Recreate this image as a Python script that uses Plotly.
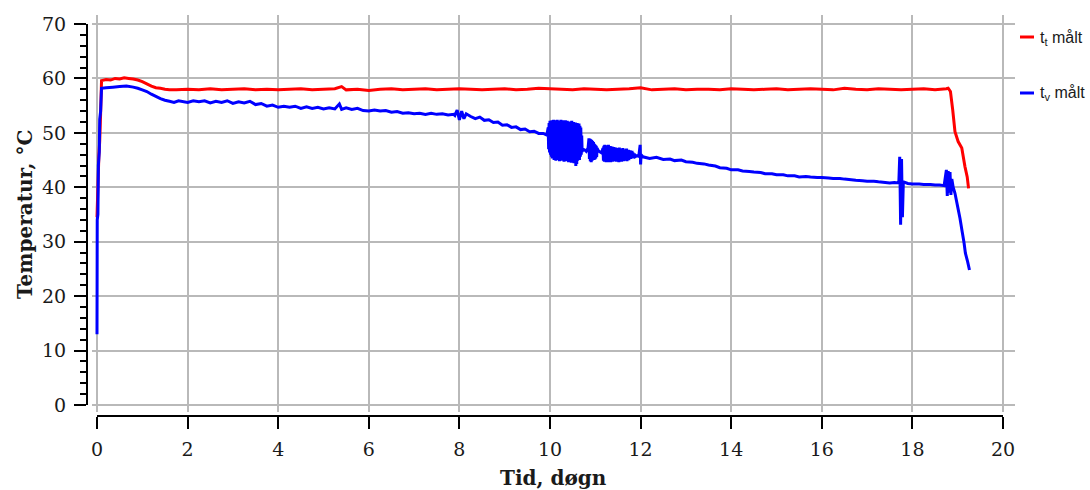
import plotly.graph_objects as go

W, H = 1090, 490

# Tank temperature t_t (red): (day, degC)
t_t_points = [
    (0.000, 34.5), (0.005, 36.0), (0.02, 40.0), (0.04, 45.5), (0.06, 48.5),
    (0.08, 53.5), (0.10, 59.6), (0.20, 59.8), (0.30, 59.7), (0.40, 60.0),
    (0.50, 59.9), (0.60, 60.1), (0.70, 60.0), (0.80, 59.9), (0.90, 59.7),
    (1.00, 59.4), (1.10, 59.0), (1.20, 58.6), (1.30, 58.3), (1.40, 58.2),
    (1.50, 58.0), (1.60, 57.9), (1.75, 57.9), (2.00, 58.0), (2.25, 57.9),
    (2.50, 58.1), (2.75, 57.9), (3.00, 58.0), (3.25, 58.1), (3.50, 57.9),
    (3.75, 58.0), (4.00, 57.9), (4.25, 58.0), (4.50, 58.1), (4.75, 57.9),
    (5.00, 58.0), (5.25, 58.1), (5.40, 58.5), (5.50, 57.9), (5.75, 58.0),
    (6.00, 57.8), (6.25, 58.0), (6.50, 58.1), (6.75, 57.9), (7.00, 58.0),
    (7.25, 58.1), (7.50, 57.9), (7.75, 58.0), (8.00, 58.1), (8.25, 58.0),
    (8.50, 57.9), (8.75, 58.0), (9.00, 58.1), (9.25, 57.9), (9.50, 58.0),
    (9.75, 58.2), (10.00, 58.1), (10.25, 58.0), (10.50, 57.9), (10.75, 58.1),
    (11.00, 58.0), (11.25, 57.9), (11.50, 58.0), (11.75, 58.1), (12.00, 58.3),
    (12.25, 57.9), (12.50, 58.0), (12.75, 58.1), (13.00, 57.9), (13.25, 58.0),
    (13.50, 58.0), (13.75, 57.9), (14.00, 58.1), (14.25, 58.0), (14.50, 57.9),
    (14.75, 58.0), (15.00, 58.1), (15.25, 57.9), (15.50, 58.0), (15.75, 58.1),
    (16.00, 58.0), (16.25, 57.9), (16.50, 58.2), (16.75, 58.0), (17.00, 57.9),
    (17.25, 58.1), (17.50, 58.0), (17.75, 57.9), (18.00, 58.0), (18.25, 58.1),
    (18.50, 57.9), (18.75, 58.1), (18.79, 58.2), (18.84, 57.6), (18.89, 54.2),
    (18.94, 50.2), (19.01, 48.4), (19.09, 47.2), (19.16, 43.8), (19.21, 41.9),
    (19.24, 39.8),
]

# Water temperature t_v (blue), split into segments: (day, degC)
t_v_start = [
    (0.000, 13.0), (0.005, 34.0), (0.02, 35.0), (0.03, 44.0), (0.05, 46.5),
    (0.06, 52.5), (0.08, 54.0), (0.10, 58.2), (0.20, 58.3), (0.35, 58.4),
    (0.50, 58.5), (0.65, 58.6), (0.80, 58.4), (0.90, 58.2), (1.00, 57.9),
    (1.10, 57.6), (1.20, 57.1), (1.30, 56.7), (1.40, 56.3), (1.50, 56.0),
    (1.60, 55.8), (1.70, 55.6), (1.80, 55.9),
]
t_v_slow_decline = [
    (2.000, 55.6), (2.125, 55.9), (2.250, 55.7), (2.375, 55.9), (2.500, 55.5),
    (2.625, 55.8), (2.750, 55.6), (2.875, 55.9), (3.000, 55.4), (3.125, 55.7),
    (3.250, 55.5), (3.375, 55.8), (3.500, 55.2), (3.625, 55.4), (3.750, 54.9),
    (3.875, 55.1), (4.000, 54.7), (4.125, 54.9), (4.250, 54.7), (4.375, 54.9),
    (4.500, 54.5), (4.625, 54.8), (4.750, 54.5), (4.875, 54.7), (5.000, 54.4),
    (5.125, 54.6), (5.250, 54.4), (5.350, 55.3), (5.400, 54.3), (5.500, 54.6),
    (5.625, 54.3), (5.750, 54.5), (5.875, 54.1), (6.000, 54.0), (6.125, 54.2),
    (6.250, 54.0), (6.375, 54.1), (6.500, 53.8), (6.625, 53.9), (6.750, 53.6),
    (6.875, 53.7), (7.000, 53.5), (7.125, 53.6), (7.250, 53.4), (7.375, 53.6),
    (7.500, 53.4), (7.625, 53.5), (7.750, 53.3), (7.875, 53.4), (7.900, 53.2),
    (7.950, 54.2), (8.000, 52.4), (8.050, 54.0), (8.100, 52.6), (8.150, 53.5),
    (8.250, 53.0), (8.350, 52.6), (8.450, 52.9), (8.550, 52.3), (8.650, 52.4),
    (8.750, 51.9), (8.850, 52.0), (8.950, 51.4), (9.050, 51.5), (9.150, 51.0),
    (9.250, 51.1), (9.350, 50.6), (9.450, 50.7), (9.550, 50.2), (9.650, 50.3),
    (9.750, 49.9), (9.850, 49.9), (9.930, 49.6),
]
# strong oscillation between day ~10 and ~10.7
t_v_oscillation = [
    (9.96, 51.0), (9.97, 47.0), (9.98, 51.8), (9.99, 46.4), (10.00, 52.2),
    (10.01, 46.0), (10.02, 52.0), (10.03, 45.6), (10.04, 52.3), (10.05, 45.3),
    (10.06, 52.1), (10.07, 45.5), (10.08, 52.4), (10.09, 45.0), (10.10, 51.9),
    (10.11, 45.4), (10.12, 52.3), (10.13, 44.9), (10.14, 52.0), (10.15, 45.2),
    (10.16, 52.4), (10.17, 45.0), (10.18, 51.8), (10.19, 45.5), (10.20, 52.2),
    (10.21, 44.8), (10.22, 52.0), (10.23, 45.3), (10.24, 52.4), (10.25, 45.1),
    (10.26, 51.7), (10.27, 44.9), (10.28, 52.3), (10.29, 45.4), (10.30, 52.1),
    (10.31, 44.7), (10.32, 51.9), (10.33, 45.2), (10.34, 52.3), (10.35, 45.0),
    (10.36, 51.8), (10.37, 44.8), (10.38, 52.2), (10.39, 45.3), (10.40, 52.0),
    (10.41, 44.6), (10.42, 51.7), (10.43, 45.1), (10.44, 52.1), (10.45, 44.9),
    (10.46, 51.9), (10.47, 44.5), (10.48, 52.2), (10.49, 45.0), (10.50, 51.8),
    (10.51, 44.7), (10.52, 52.0), (10.53, 44.4), (10.54, 51.6), (10.55, 44.8),
    (10.56, 51.9), (10.57, 43.9), (10.58, 51.5), (10.59, 44.3), (10.60, 51.8),
    (10.61, 44.9), (10.62, 51.4), (10.63, 45.2), (10.64, 51.7), (10.65, 45.0),
    (10.66, 51.3), (10.67, 45.6), (10.68, 51.0), (10.69, 46.0), (10.70, 49.5),
    (10.71, 46.5), (10.72, 47.0),
]
# weaker oscillations between day ~10.8 and ~12
t_v_ripple = [
    (10.76, 46.9), (10.80, 46.6), (10.84, 47.2),
    (10.86, 49.0), (10.87, 45.2), (10.88, 48.9), (10.89, 44.8), (10.90, 48.8),
    (10.91, 44.6), (10.92, 48.7), (10.93, 44.9), (10.94, 48.5), (10.95, 45.2),
    (10.96, 48.3), (10.97, 45.0), (10.98, 48.0), (10.99, 45.1), (11.00, 47.8),
    (11.01, 45.3), (11.02, 47.6), (11.03, 45.6), (11.04, 47.2), (11.06, 46.8),
    (11.10, 46.5), (11.14, 46.3),
    (11.17, 47.2), (11.18, 44.9), (11.19, 47.6), (11.20, 44.7), (11.21, 47.8),
    (11.22, 44.8), (11.23, 47.5), (11.24, 44.6), (11.25, 47.7), (11.26, 45.0),
    (11.27, 47.4), (11.28, 44.6), (11.29, 47.8), (11.30, 44.8), (11.31, 47.3),
    (11.32, 44.9), (11.33, 47.6), (11.34, 44.6), (11.35, 47.2), (11.36, 45.0),
    (11.37, 47.5), (11.38, 44.7), (11.39, 47.0), (11.40, 44.8), (11.41, 47.4),
    (11.42, 44.9), (11.43, 47.1), (11.44, 45.0), (11.45, 47.3), (11.46, 44.7),
    (11.47, 46.9), (11.48, 45.1), (11.49, 47.2), (11.50, 44.8), (11.51, 47.0),
    (11.52, 44.6), (11.53, 47.3), (11.54, 44.9), (11.55, 46.9), (11.56, 45.0),
    (11.57, 47.1), (11.58, 44.7), (11.59, 46.8), (11.60, 45.1), (11.61, 47.2),
    (11.62, 44.8), (11.63, 46.9), (11.64, 45.0), (11.65, 47.0), (11.66, 44.9),
    (11.67, 46.8), (11.68, 45.2), (11.69, 47.1), (11.70, 44.8), (11.71, 46.7),
    (11.72, 45.1), (11.73, 46.9), (11.74, 45.0), (11.75, 46.6), (11.76, 45.3),
    (11.77, 46.8), (11.78, 45.2), (11.79, 46.5), (11.80, 45.4), (11.81, 46.7),
    (11.82, 45.3), (11.83, 46.4), (11.84, 45.5), (11.86, 46.2), (11.88, 45.6),
    (11.92, 45.8), (11.96, 45.7), (11.99, 47.8), (12.00, 44.2), (12.01, 46.0),
    (12.05, 45.6),
]
t_v_late = [
    (12.20, 45.3), (12.35, 45.5), (12.50, 45.1), (12.65, 45.2), (12.75, 44.9),
    (12.90, 45.0), (13.00, 44.7), (13.15, 44.6), (13.25, 44.4), (13.40, 44.3),
    (13.50, 44.1), (13.65, 43.9), (13.75, 43.6), (13.90, 43.5), (14.00, 43.2),
    (14.15, 43.2), (14.25, 43.0), (14.40, 42.9), (14.50, 42.8), (14.65, 42.7),
    (14.75, 42.5), (14.90, 42.5), (15.00, 42.3), (15.15, 42.3), (15.25, 42.1),
    (15.40, 42.1), (15.50, 41.9), (15.65, 42.0), (15.75, 41.9), (15.90, 41.8),
    (16.00, 41.8), (16.15, 41.7), (16.25, 41.6), (16.40, 41.6), (16.50, 41.5),
    (16.65, 41.4), (16.75, 41.3), (16.90, 41.2), (17.00, 41.1), (17.15, 41.1),
    (17.25, 41.0), (17.40, 40.9), (17.50, 40.8), (17.60, 40.9), (17.70, 40.8),
    (17.72, 45.6), (17.74, 33.1), (17.76, 45.2), (17.78, 34.5), (17.80, 41.0),
    (17.90, 40.7), (18.00, 40.6), (18.15, 40.6), (18.25, 40.5), (18.40, 40.5),
    (18.50, 40.4), (18.60, 40.4), (18.70, 40.3), (18.75, 43.2), (18.77, 38.4),
    (18.79, 43.0), (18.81, 39.0), (18.83, 42.8), (18.85, 38.6), (18.87, 41.5),
    (18.90, 40.0), (18.94, 38.9), (19.00, 36.4), (19.05, 34.3), (19.10, 31.8),
    (19.14, 29.8), (19.17, 27.9), (19.22, 26.3), (19.26, 24.8),
]
t_v_points = (t_v_start + t_v_slow_decline + t_v_oscillation
              + t_v_ripple + t_v_late)

x_ticks = [0, 2, 4, 6, 8, 10, 12, 14, 16, 18, 20]
y_ticks = [0, 10, 20, 30, 40, 50, 60, 70]

RED = "#ff0000"
BLUE = "#0000ff"
GRID = "#b9b9b9"
SERIF = "DejaVu Serif"
SANS = "Liberation Sans"

# pixel geometry of the plotting area
px_x0, px_x20 = 97, 1003      # x = 0 and x = 20
px_y0, px_y70 = 405, 24       # y = 0 and y = 70
grid_left, grid_right = 92, 1015
grid_top, grid_bottom = 15, 412

sx = (px_x20 - px_x0) / 20.0
sy = (px_y0 - px_y70) / 70.0
bg_xrange = [-(px_x0 - grid_left) / sx, 20 + (grid_right - px_x20) / sx]
bg_yrange = [-(grid_bottom - px_y0) / sy, 70 + (px_y70 - grid_top) / sy]

fig = go.Figure()
fig.add_trace(go.Scatter(
    x=[p[0] for p in t_t_points], y=[p[1] for p in t_t_points],
    mode="lines", name="t<sub>t</sub> målt",
    line=dict(color=RED, width=3, simplify=False), xaxis="x", yaxis="y",
))
fig.add_trace(go.Scatter(
    x=[p[0] for p in t_v_points], y=[p[1] for p in t_v_points],
    mode="lines", name="t<sub>v</sub> målt",
    line=dict(color=BLUE, width=3, simplify=False), xaxis="x", yaxis="y",
))
# empty trace so the detached axis pair is laid out
fig.add_trace(go.Scatter(x=[None], y=[None], xaxis="x2", yaxis="y2",
                         showlegend=False, hoverinfo="skip"))

fig.update_layout(
    width=W, height=H,
    margin=dict(l=0, r=0, t=0, b=0, autoexpand=False),
    paper_bgcolor="white", plot_bgcolor="rgba(0,0,0,0)",
    showlegend=False,
    xaxis=dict(
        domain=[grid_left / W, grid_right / W], range=bg_xrange,
        tickmode="array", tickvals=x_ticks, showticklabels=False,
        showgrid=True, gridcolor=GRID, gridwidth=1.5,
        zeroline=False, showline=False, ticks="", automargin=False,
    ),
    yaxis=dict(
        domain=[1 - grid_bottom / H, 1 - grid_top / H], range=bg_yrange,
        tickmode="array", tickvals=y_ticks, showticklabels=False,
        showgrid=True, gridcolor=GRID, gridwidth=1.5,
        zeroline=False, showline=False, ticks="", automargin=False,
    ),
    xaxis2=dict(
        domain=[px_x0 / W, px_x20 / W], range=[0, 20],
        anchor="free", position=1 - 416 / H,
        tickmode="array", tickvals=x_ticks,
        showline=True, linecolor="black", linewidth=2,
        ticks="outside", ticklen=12, tickwidth=2, tickcolor="black",
        ticklabelstandoff=4, automargin=False,
        showgrid=False, zeroline=False,
        tickfont=dict(family=SERIF, size=19, color="#1a1a1a"),
    ),
    yaxis2=dict(
        domain=[1 - px_y0 / H, 1 - px_y70 / H], range=[0, 70],
        anchor="free", position=87 / W,
        tickmode="array", tickvals=y_ticks,
        showline=True, linecolor="black", linewidth=2,
        ticks="outside", ticklen=12, tickwidth=2, tickcolor="black",
        ticklabelstandoff=4, automargin=False,
        minor=dict(dtick=2, tick0=0, ticks="outside", ticklen=6,
                   tickwidth=1.5, tickcolor="black", showgrid=False),
        showgrid=False, zeroline=False,
        tickfont=dict(family=SERIF, size=19, color="#1a1a1a"),
    ),
)

# axis titles
fig.add_annotation(
    text="<b>Tid, døgn</b>", xref="paper", yref="paper",
    x=553 / W, y=1 - 478 / H, xanchor="center", yanchor="middle",
    showarrow=False, font=dict(family=SERIF, size=20, color="#1a1a1a"),
)
fig.add_annotation(
    text="<b>Temperatur, °C</b>", xref="paper", yref="paper",
    x=25 / W, y=1 - 215 / H, xanchor="center", yanchor="middle",
    textangle=-90, showarrow=False,
    font=dict(family=SERIF, size=20, color="#1a1a1a"),
)

# legend: short line sample followed by the series name
legend_rows = [("t<sub>t</sub> målt", RED, 37), ("t<sub>v</sub> målt", BLUE, 93)]
for label, color, ypx in legend_rows:
    fig.add_shape(
        type="line", xref="paper", yref="paper",
        x0=1020 / W, x1=1034 / W, y0=1 - ypx / H, y1=1 - ypx / H,
        line=dict(color=color, width=3),
    )
    fig.add_annotation(
        text=label, xref="paper", yref="paper",
        x=1038 / W, y=1 - (ypx + 1) / H, xanchor="left", yanchor="middle",
        showarrow=False, font=dict(family=SANS, size=16, color="#1a1a1a"),
    )

fig.write_html("out.html")
